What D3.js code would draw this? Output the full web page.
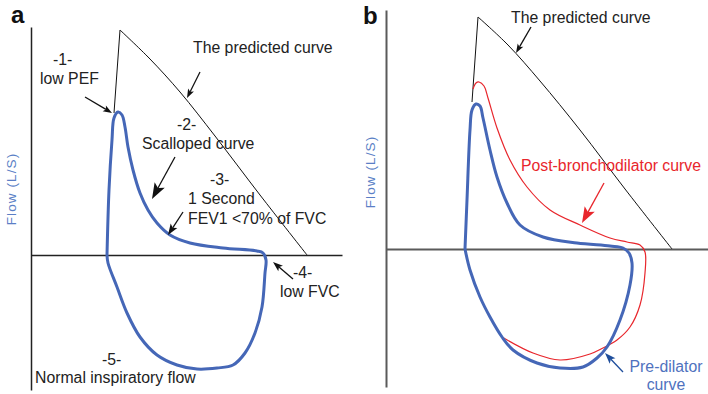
<!DOCTYPE html>
<html>
<head>
<meta charset="utf-8">
<script src="https://cdn.jsdelivr.net/npm/d3@7"></script>
<style>
  html, body { margin: 0; padding: 0; background: #fff; }
  svg { display: block; font-family: "Liberation Sans", Arial, Helvetica, sans-serif; }
</style>
</head>
<body>
<svg id="chart" width="708" height="394"></svg>
<script>
// ---- Panel a: obstructive flow-volume loop (volume in L, flow in L/s) ----
// predicted curve: foot of the rise, peak, then the descending limb
const predictedA = [[1.66, 2.84], [1.78, 4.50], [2.38, 3.92], [2.98, 3.26], [3.68, 2.38], [4.58, 1.20], [5.52, 0]];
const loopA = [
  [1.52, 0], [1.56, 1.30], [1.62, 2.30], [1.66, 2.74], [1.74, 2.86], [1.82, 2.80], [1.88, 2.56],
  [1.94, 2.16], [2.04, 1.70], [2.18, 1.24], [2.34, 0.90], [2.52, 0.64], [2.78, 0.40], [3.18, 0.24],
  [3.84, 0.14], [4.52, 0.08], [4.64, 0.04], [4.70, -0.10], [4.68, -0.36], [4.62, -1.04], [4.48, -1.56],
  [4.28, -1.96], [4.04, -2.20], [3.72, -2.26], [3.32, -2.28], [2.92, -2.20], [2.52, -2.00], [2.18, -1.64],
  [1.92, -1.16], [1.72, -0.64], [1.54, -0.16], [1.52, 0]
];
// annotation arrows: [tailVolume, tailFlow, tipVolume, tipFlow, headSize]
const arrowsA = [
  [1.08, 3.16, 1.62, 2.84, 9],
  [3.38, 3.66, 3.12, 3.14, 9],
  [2.88, 1.96, 2.42, 1.12, 16],
  [3.04, 0.86, 2.74, 0.40, 11],
  [5.24, -0.48, 4.84, -0.14, 10]
];
// labels: [text, volume, flow, anchor]
const labelsA = [
  ["The predicted curve", 3.24, 4.04, "start"],
  ["-1-", 0.44, 3.80, "start"],
  ["low PEF", 0.18, 3.42, "start"],
  ["-2-", 2.92, 2.50, "start"],
  ["Scalloped curve", 2.22, 2.12, "start"],
  ["-3-", 3.58, 1.40, "start"],
  ["1 Second", 3.14, 1.02, "start"],
  ["FEV1 <70% of FVC", 3.14, 0.62, "start"],
  ["-4-", 5.24, -0.46, "start"],
  ["low FVC", 4.98, -0.84, "start"],
  ["-5-", 1.42, -2.20, "start"],
  ["Normal inspiratory flow", 0.08, -2.56, "start"]
];

// ---- Panel b: response to bronchodilator ----
const predictedB = [[1.72, 2.94], [1.84, 4.64], [2.44, 4.08], [3.08, 3.36], [3.88, 2.38], [4.78, 1.20], [5.72, 0]];
const preLoopB = [
  [1.58, 0], [1.62, 0.98], [1.68, 2.38], [1.72, 2.78], [1.80, 2.90], [1.88, 2.86], [1.94, 2.62],
  [2.08, 1.98], [2.22, 1.44], [2.42, 0.92], [2.68, 0.48], [3.14, 0.24], [3.82, 0.12], [4.48, 0.06],
  [4.74, 0.02], [4.86, -0.08], [4.92, -0.28], [4.88, -0.72], [4.68, -1.42], [4.42, -1.96], [4.22, -2.18],
  [3.94, -2.36], [3.48, -2.38], [3.02, -2.28], [2.54, -2.02], [2.32, -1.76], [2.08, -1.36], [1.88, -0.96],
  [1.68, -0.42], [1.58, 0]
];
const postLoopB = [
  [1.74, 3.20], [1.80, 3.32], [1.86, 3.34], [1.96, 3.26], [2.04, 3.02], [2.22, 2.42], [2.48, 1.78],
  [2.82, 1.24], [3.28, 0.78], [3.88, 0.48], [4.48, 0.22], [4.82, 0.14], [5.08, 0.08], [5.18, -0.06],
  [5.18, -0.48], [5.08, -1.12], [4.88, -1.56], [4.62, -1.82], [4.34, -1.98], [4.08, -2.10], [3.48, -2.22],
  [2.94, -2.08], [2.32, -1.76]
];
const arrowsB = [
  [2.90, 4.44, 2.60, 3.92, 9, "#111"],
  [4.36, 1.32, 3.92, 0.52, 16, "#e8262c"],
  [4.74, -2.46, 4.38, -2.08, 11, "#1f4e9c"]
];
const labelsB = [
  ["The predicted curve", 2.50, 4.52, "start", "#222"],
  ["Post-bronchodilator curve", 2.70, 1.56, "start", "#e8262c"],
  ["Pre-dilator", 5.60, -2.46, "middle", "#4f72be"],
  ["curve", 5.60, -2.82, "middle", "#4f72be"]
];

const svg = d3.select("#chart");
const BLUE = "#4567b7";
const FONT = 15.8;

function drawArrow(g, x, y, a, color) {
  const [x0, y0, x1, y1, size] = a;
  const px0 = x(x0), py0 = y(y0), px1 = x(x1), py1 = y(y1);
  const ang = Math.atan2(py1 - py0, px1 - px0);
  const len = size, half = size * 0.36;
  const bx = px1 - len * Math.cos(ang), by = py1 - len * Math.sin(ang);
  const nx = -Math.sin(ang), ny = Math.cos(ang);
  const notch = 0.78;
  const mx = px1 - len * notch * Math.cos(ang), my = py1 - len * notch * Math.sin(ang);
  g.append("line")
    .attr("x1", px0).attr("y1", py0).attr("x2", mx).attr("y2", my)
    .attr("stroke", color).attr("stroke-width", 1.3);
  g.append("path")
    .attr("d", `M${px1},${py1} L${bx + nx * half},${by + ny * half} L${mx},${my} L${bx - nx * half},${by - ny * half} Z`)
    .attr("fill", color);
}

function panel(opts) {
  const g = svg.append("g");
  const x = d3.scaleLinear().domain(opts.xDomain).range(opts.xRange);
  const y = d3.scaleLinear().domain(opts.yDomain).range(opts.yRange);

  // axes: only the domain lines, crossing at zero flow
  const yAxis = d3.axisLeft(y).ticks(0).tickSize(0).tickSizeOuter(0);
  const xAxis = d3.axisBottom(x).ticks(0).tickSize(0).tickSizeOuter(0);
  g.append("g").attr("transform", `translate(${x(0)},0)`).call(yAxis)
    .select(".domain").attr("stroke", opts.axisColor).attr("stroke-width", opts.axisWidth);
  g.append("g").attr("transform", `translate(0,${y(0)})`).call(xAxis)
    .select(".domain").attr("stroke", opts.axisColor).attr("stroke-width", opts.axisWidth);

  const straight = d3.line().x(d => x(d[0])).y(d => y(d[1]));
  const smooth = d3.line().x(d => x(d[0])).y(d => y(d[1])).curve(d3.curveCatmullRom.alpha(0.5));

  // predicted curve: straight rise to the peak, gently bowed descent
  g.append("path").attr("d", straight(opts.predicted.slice(0, 2)))
    .attr("fill", "none").attr("stroke", "#111").attr("stroke-width", 1);
  g.append("path").attr("d", smooth(opts.predicted.slice(1)))
    .attr("fill", "none").attr("stroke", "#111").attr("stroke-width", 1);

  if (opts.post) {
    g.append("path").attr("d", smooth(opts.post))
      .attr("fill", "none").attr("stroke", "#e8262c").attr("stroke-width", 1.2);
  }
  g.append("path").attr("d", smooth(opts.loop))
    .attr("fill", "none").attr("stroke", BLUE).attr("stroke-width", 3)
    .attr("stroke-linejoin", "round");

  opts.arrows.forEach(a => drawArrow(g, x, y, a, a[5] || "#111"));

  g.selectAll("text.note").data(opts.labels).join("text")
    .attr("class", "note")
    .attr("x", d => x(d[1])).attr("y", d => y(d[2]))
    .attr("text-anchor", d => d[3])
    .attr("fill", d => d[4] || "#222")
    .attr("font-size", FONT)
    .text(d => d[0]);

  // panel letter and flow axis title
  g.append("text").attr("x", opts.letterPos[0]).attr("y", opts.letterPos[1])
    .attr("font-size", 24).attr("font-weight", "bold").attr("fill", "#111").text(opts.letter);
  g.append("text")
    .attr("transform", `translate(${opts.titlePos[0]},${opts.titlePos[1]}) rotate(-90)`)
    .attr("text-anchor", "middle").attr("font-size", 13.5).attr("letter-spacing", 1.1)
    .attr("fill", "#5b7fc6").text("Flow (L/S)");
}

panel({
  xDomain: [0, 6.22], xRange: [31, 342],
  yDomain: [-2.7, 4.56], yRange: [390, 27],
  axisColor: "#222", axisWidth: 1.5,
  predicted: predictedA, loop: loopA, arrows: arrowsA, labels: labelsA,
  letter: "a", letterPos: [11, 23], titlePos: [16, 189]
});

panel({
  xDomain: [0, 6.44], xRange: [386, 708],
  yDomain: [-2.76, 4.78], yRange: [387, 10],
  axisColor: "#5a5a5a", axisWidth: 2,
  predicted: predictedB, loop: preLoopB, post: postLoopB, arrows: arrowsB, labels: labelsB,
  letter: "b", letterPos: [363, 24], titlePos: [375, 172]
});
</script>
</body>
</html>
